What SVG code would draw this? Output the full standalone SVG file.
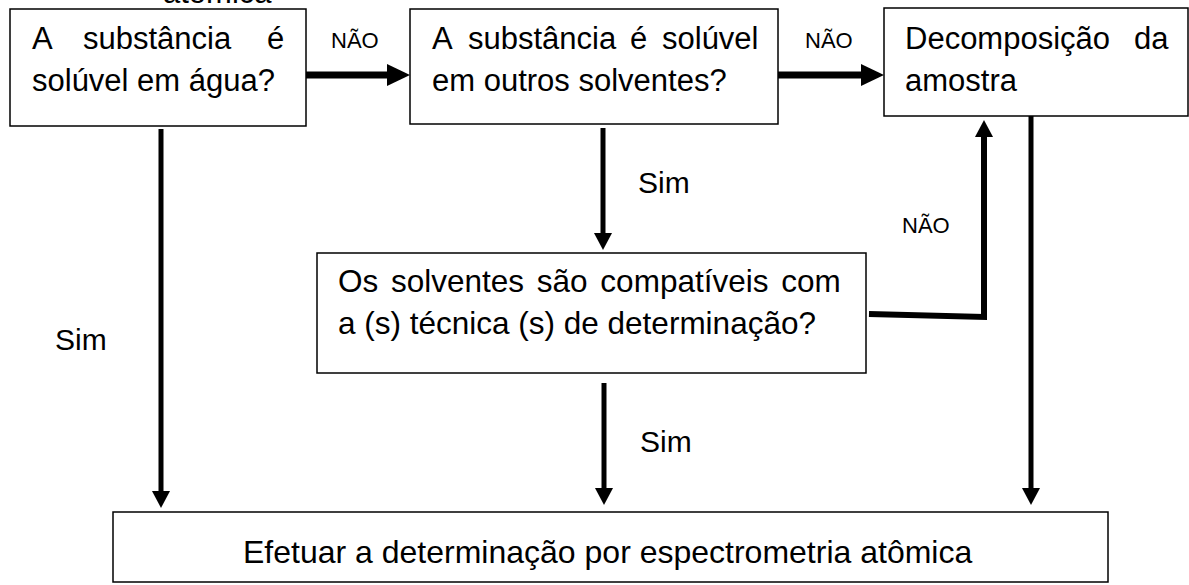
<svg xmlns="http://www.w3.org/2000/svg" width="1189" height="585" viewBox="0 0 1189 585">
<style>
  .box { fill: #fff; stroke: #000; stroke-width: 1.5; }
  .t { font-family: "Liberation Sans", Arial, sans-serif; font-size: 31px; fill: #000; }
  .t2 { font-family: "Liberation Sans", Arial, sans-serif; font-size: 31.5px; fill: #000; }
  .t3 { font-family: "Liberation Sans", Arial, sans-serif; font-size: 32px; fill: #000; }
  .lbl { font-family: "Liberation Sans", Arial, sans-serif; font-size: 22px; fill: #000; }
  .sim { font-family: "Liberation Sans", Arial, sans-serif; font-size: 30px; fill: #000; }
  .thick { fill: none; stroke: #000; stroke-width: 7; }
  .thin { fill: none; stroke: #000; stroke-width: 5; }
  .loop { fill: none; stroke: #000; stroke-width: 6; }
</style>
<defs>
  <marker id="bigHead" markerUnits="userSpaceOnUse" markerWidth="23" markerHeight="22" refX="13" refY="11" orient="auto">
    <path d="M0,0 L23,11 L0,22 Z" fill="#000"/>
  </marker>
  <marker id="smallHead" markerUnits="userSpaceOnUse" markerWidth="17" markerHeight="18" refX="9" refY="9" orient="auto">
    <path d="M0,0 L17,9 L0,18 Z" fill="#000"/>
  </marker>
</defs>
<rect width="1189" height="585" fill="#fff"/>
<text class="t" x="163" y="3">atômica</text>

<g id="connectors">
  <path class="thick" d="M306,75 L400,75" marker-end="url(#bigHead)"/>
  <path class="thick" d="M778,75 L874,75" marker-end="url(#bigHead)"/>
  <path class="thin" d="M161,129 L161,500" marker-end="url(#smallHead)"/>
  <path class="thin" d="M603,128 L603,242" marker-end="url(#smallHead)"/>
  <path class="thin" d="M604,383 L604,497" marker-end="url(#smallHead)"/>
  <path class="thin" d="M1031,116 L1031,497" marker-end="url(#smallHead)"/>
  <path class="loop" d="M869,314 L984,317 L984,128" marker-end="url(#smallHead)"/>
  <text class="lbl" x="331" y="48">NÃO</text>
  <text class="lbl" x="805" y="48">NÃO</text>
  <text class="lbl" x="902" y="233">NÃO</text>
  <text class="sim" x="638" y="193">Sim</text>
  <text class="sim" x="55" y="350">Sim</text>
  <text class="sim" x="640" y="452">Sim</text>
</g>

<g id="node-agua">
  <rect class="box" x="10" y="9" width="296" height="117"/>
  <text class="t" y="49"><tspan x="32">A</tspan><tspan x="83">substância</tspan><tspan x="267">é</tspan></text>
  <text class="t" x="32" y="91">solúvel em água?</text>
</g>

<g id="node-solventes">
  <rect class="box" x="410" y="9" width="368" height="115"/>
  <text class="t" y="49"><tspan x="432">A</tspan><tspan x="468">substância</tspan><tspan x="630">é</tspan><tspan x="662">solúvel</tspan></text>
  <text class="t" x="432" y="91">em outros solventes?</text>
</g>

<g id="node-decomposicao">
  <rect class="box" x="884" y="8" width="304" height="108"/>
  <text class="t" y="49"><tspan x="905">Decomposição</tspan><tspan x="1134">da</tspan></text>
  <text class="t" x="905" y="91">amostra</text>
</g>

<g id="node-compativeis">
  <rect class="box" x="317" y="253" width="549" height="120"/>
  <text class="t2" x="338" y="292" word-spacing="4">Os solventes são compatíveis com</text>
  <text class="t2" x="338" y="334">a (s) técnica (s) de determinação?</text>
</g>

<g id="node-efetuar">
  <rect class="box" x="113" y="512" width="995" height="70"/>
  <text class="t3" x="243" y="563">Efetuar a determinação por espectrometria atômica</text>
</g>
</svg>
